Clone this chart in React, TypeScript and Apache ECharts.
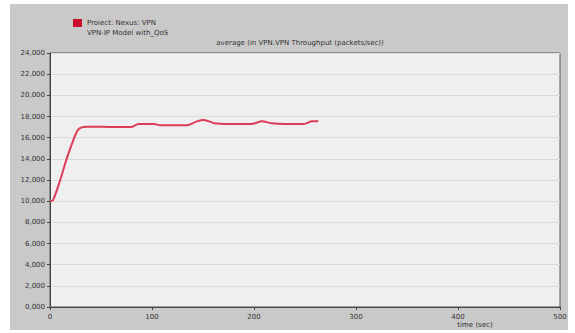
import React, { useEffect, useRef } from "react";
import * as echarts from "echarts";

const times = [0, 3, 10, 16, 23, 28, 36, 50, 65, 79, 87, 95, 102, 108, 120, 134, 144, 151, 161, 175, 197, 208, 217, 230, 249, 257, 263];
const values = [10000, 10100, 12000, 13900, 15800, 16800, 17030, 17030, 17000, 17000, 17290, 17290, 17290, 17170, 17170, 17170, 17540, 17670, 17360, 17290, 17290, 17540, 17360, 17290, 17290, 17540, 17540];
const yTicks = [0, 2000, 4000, 6000, 8000, 10000, 12000, 14000, 16000, 18000, 20000, 22000, 24000];
const xTicks = [0, 100, 200, 300, 400, 500];
const legendLine1 = "Proiect: Nexus: VPN";
const legendLine2 = "VPN-IP Model with_QoS";
const chartTitle = "average (in VPN.VPN Throughput (packets/sec))";
const xTitle = "time (sec)";

export default function App() {
  const ref = useRef<HTMLDivElement>(null);
  useEffect(() => {
    document.body.style.margin = "0";
    const chart = echarts.init(ref.current!, null, { renderer: "svg" });
    const font = "DejaVu Sans";
    chart.setOption({
      animation: false,
      backgroundColor: "#ffffff",
      textStyle: { fontFamily: font },
      graphic: [
        { type: "rect", shape: { x: 10, y: 4, width: 558, height: 326 }, style: { fill: "#c9c9c9" }, z: -10 },
        { type: "rect", shape: { x: 73, y: 19, width: 9, height: 8 }, style: { fill: "#c8102e" } },
        { type: "text", x: 87, y: 19, style: { text: legendLine1, fontSize: 7, fill: "#333", fontFamily: font } },
        { type: "text", x: 87, y: 29, style: { text: legendLine2, fontSize: 7, fill: "#333", fontFamily: font } },
        { type: "text", x: 300, y: 39, style: { text: chartTitle, fontSize: 7, fill: "#333", fontFamily: font, textAlign: "center" } },
        { type: "text", x: 475, y: 321, style: { text: xTitle, fontSize: 7, fill: "#333", fontFamily: font, textAlign: "center" } },
      ],
      grid: {
        left: 50, top: 53, right: 15, bottom: 26,
        show: true, backgroundColor: "#efefef", borderColor: "#555", borderWidth: 1,
      },
      xAxis: {
        type: "value", min: 0, max: 500, interval: 100,
        axisLine: { lineStyle: { color: "#444" } },
        axisTick: { show: true, length: 3, lineStyle: { color: "#444" } },
        axisLabel: { fontSize: 7, color: "#333", margin: 6, formatter: (v: number) => xTicks.includes(v) ? String(v) : "" },
        splitLine: { show: false },
      },
      yAxis: {
        type: "value", min: 0, max: 24000, interval: 2000,
        axisLine: { show: true, lineStyle: { color: "#444" } },
        axisTick: { show: true, length: 3, lineStyle: { color: "#444" } },
        axisLabel: {
          fontSize: 7, color: "#333", margin: 5,
          formatter: (v: number) => yTicks.includes(v) ? `${Math.round(v / 1000)},000` : "",
        },
        splitLine: { show: true, lineStyle: { color: "#dadada", width: 1 } },
      },
      series: [
        {
          type: "line",
          data: times.map((t, i) => [t, values[i]]),
          showSymbol: false,
          smooth: 0.3,
          lineStyle: { color: "#dc3c55", width: 2 },
          itemStyle: { color: "#dc3c55" },
        },
      ],
    });
    return () => chart.dispose();
  }, []);
  return <div ref={ref} style={{ width: 575, height: 333 }} />;
}
